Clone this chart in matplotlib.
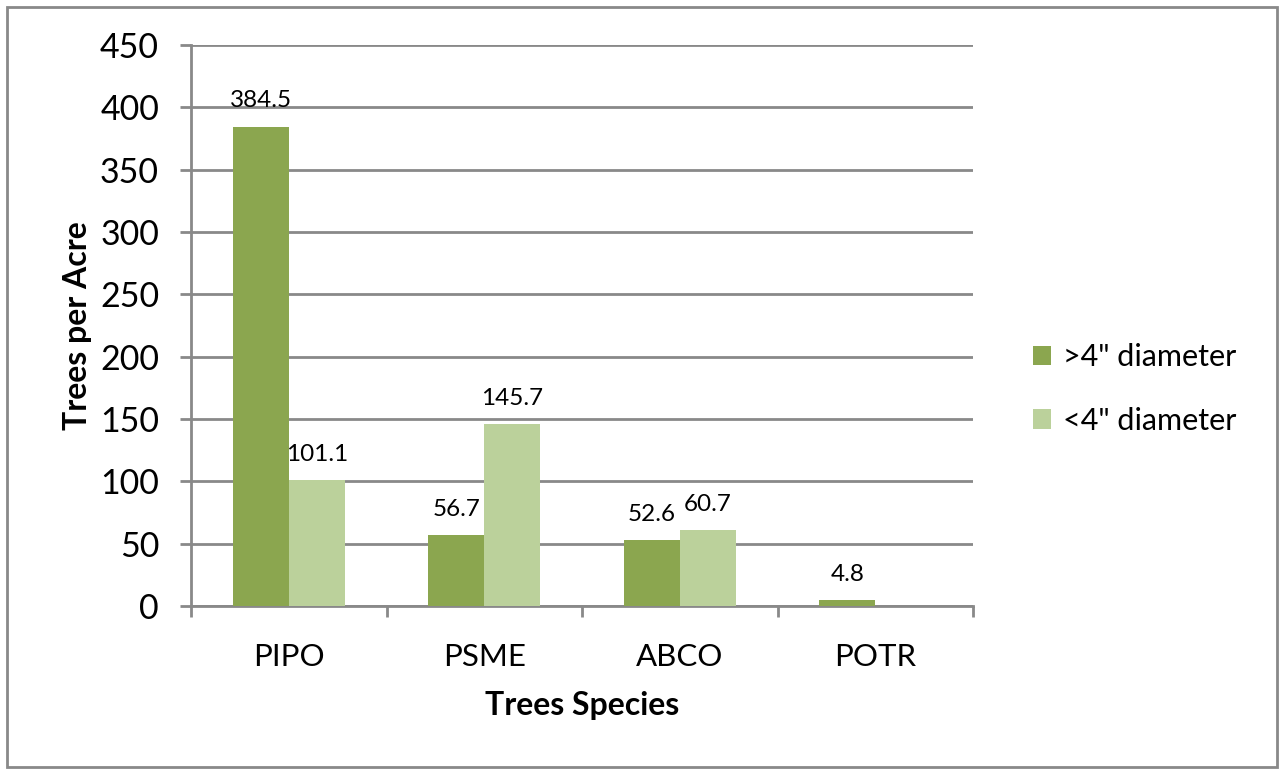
import numpy as np
import matplotlib.pyplot as plt
from matplotlib.patches import Rectangle

# Data
species = ['PIPO', 'PSME', 'ABCO', 'POTR']
large = [384.5, 56.7, 52.6, 4.8]   # >4" diameter
small = [101.1, 145.7, 60.7, 0.0]  # <4" diameter
small_labels = ['101.1', '145.7', '60.7', '']
large_labels = ['384.5', '56.7', '52.6', '4.8']

dark = '#8BA64F'
light = '#BBD19B'
gray = '#898989'

plt.rcParams['font.family'] = ['Lato', 'DejaVu Sans']

fig = plt.figure(figsize=(12.83, 7.69), dpi=100)
ax = fig.add_axes([191/1283, 1-606/769, (973-191)/1283, (606-45)/769])

x = np.arange(len(species))
w = 0.2865
ax.bar(x - w, large, w, align='edge', color=dark, label='>4" diameter', zorder=3)
ax.bar(x, small, w, align='edge', color=light, label='<4" diameter', zorder=3)

for i in range(len(species)):
    ax.annotate(large_labels[i], (x[i] - w/2, large[i]), xytext=(0, 11),
                textcoords='offset points', ha='center', va='bottom', fontsize=17.5)
    if small_labels[i]:
        ax.annotate(small_labels[i], (x[i] + w/2, small[i]), xytext=(0, 11),
                    textcoords='offset points', ha='center', va='bottom', fontsize=17.5)

ax.set_xlim(-0.5, len(species) - 0.5)
ax.set_ylim(0, 450)
ax.set_yticks(np.arange(0, 451, 50))
ax.set_xticks(x)
ax.set_xticklabels(species, fontsize=22.5)
ax.set_xticks(np.arange(-0.5, len(species), 1), minor=True)
ax.tick_params(axis='x', which='major', length=0, pad=27)
ax.tick_params(axis='x', which='minor', length=8, width=2, color=gray)
ax.tick_params(axis='y', length=8, width=2, color=gray, labelsize=24.5, pad=15)

ax.grid(axis='y', color=gray, linewidth=2, zorder=0)
for s in ['top', 'right']:
    ax.spines[s].set_visible(False)
for s in ['left', 'bottom']:
    ax.spines[s].set_color(gray)
    ax.spines[s].set_linewidth(2)

ax.set_xlabel('Trees Species', fontsize=23, fontweight='bold', labelpad=14)
ax.set_ylabel('Trees per Acre', fontsize=23, fontweight='bold', labelpad=6)

fig.legend(loc='center left', bbox_to_anchor=(1005/1283, 1-389/769), frameon=False,
           fontsize=22, handlelength=0.6, handleheight=0.6, handletextpad=0.4,
           labelspacing=1.15)

fig.patches.append(Rectangle((7/1283, 2/769), 1270/1283, 760/769, transform=fig.transFigure,
                             fill=False, edgecolor=gray, linewidth=2))

fig.savefig('out.png', dpi=100)
